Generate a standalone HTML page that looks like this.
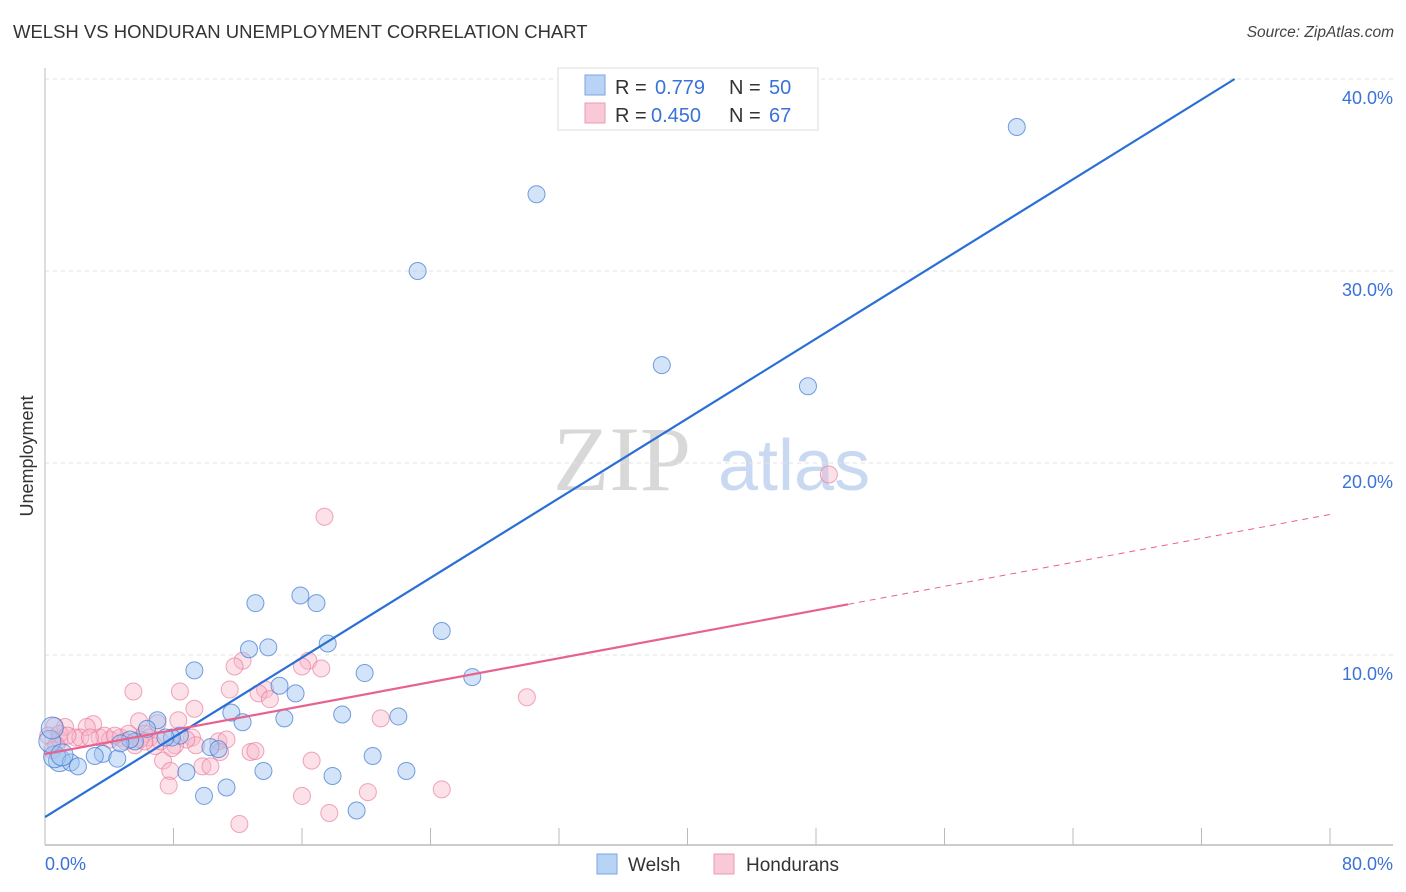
<!DOCTYPE html>
<html><head><meta charset="utf-8">
<style>
body{margin:0;background:#fff;width:1406px;height:892px;overflow:hidden;font-family:"Liberation Sans",sans-serif;}
#title{position:absolute;left:13px;top:21px;font-size:18.5px;color:#333;}
#source{position:absolute;right:12px;top:24px;font-size:15.5px;color:#444;font-style:italic;}
svg{position:absolute;left:0;top:0;}
</style></head><body>
<div id="title">WELSH VS HONDURAN UNEMPLOYMENT CORRELATION CHART</div>
<div id="source">Source: ZipAtlas.com</div>
<svg id="chart" width="1406" height="892"></svg>
<script>
const yTicks=[10,20,30,40];
const yTickLabels=["10.0%","20.0%","30.0%","40.0%"];
const xTicks=[0,8,16,24,32,40,48,56,64,72,80];
const welshX=[60.5,30.6,23.2,38.4,47.5,15.9,13.1,16.9,24.7,17.6,12.7,13.9,9.3,26.6,19.9,14.6,15.6,11.6,18.5,22.0,14.9,12.3,7.0,6.35,8.4,7.9,5.6,10.3,10.8,3.6,3.1,0.9,0.6,1.6,2.05,4.5,20.4,13.6,8.8,22.5,17.9,11.3,9.9,19.4,0.3,0.45,5.3,7.5,4.7,1.06];
const welshY=[37.5,34.0,30.0,25.1,24.0,13.1,12.7,12.7,11.25,10.6,10.3,10.4,9.2,8.85,9.06,8.4,8.0,7.0,6.9,6.8,6.7,6.5,6.6,6.15,5.8,5.7,5.5,5.2,5.1,4.85,4.74,4.5,4.7,4.4,4.2,4.6,4.74,3.96,3.9,3.96,3.7,3.1,2.66,1.9,5.5,6.2,5.6,5.7,5.4,4.8];
const hondX=[48.8,17.4,12.3,16.4,16.0,17.2,11.8,5.5,8.4,11.5,13.7,13.3,14.0,9.3,30.0,20.9,8.3,5.85,7.0,3.0,2.6,1.25,0.6,0.2,0.9,1.9,3.4,4.05,4.7,6.2,6.5,5.2,9.15,10.8,11.3,9.4,6.85,12.8,13.1,10.9,7.35,7.8,9.8,10.3,16.6,7.7,16.0,20.1,24.7,17.7,12.1,0.45,2.2,3.7,4.35,5.9,8.8,0.9,1.4,2.8,5.0,5.6,6.2,8.1,7.2,7.9,0.7];
const hondY=[19.4,17.2,9.7,9.7,9.4,9.3,9.4,8.1,8.1,8.2,8.2,8.0,7.7,7.2,7.8,6.7,6.6,6.55,6.45,6.4,6.25,6.25,6.3,5.8,5.6,5.7,5.7,5.6,5.7,5.9,5.7,5.9,5.7,5.5,5.6,5.3,5.26,4.95,5.0,4.95,4.5,3.96,4.2,4.2,4.5,3.2,2.66,2.86,3.0,1.77,1.2,5.05,5.7,5.8,5.8,5.6,5.6,5.9,5.8,5.7,5.5,5.3,5.5,5.3,5.5,5.15,5.3];
const welshTrend=[1.56,0.519];
const hondTrend=[4.84,0.156];

const X0=45,X1=1330,Y0=847,PY=19.2;
const sx=v=>X0+(X1-X0)*v/80;
const sy=v=>Y0-v*PY;
const svg=document.getElementById('chart');
const NS='http://www.w3.org/2000/svg';
function mk(tag,attrs,parent){const e=document.createElementNS(NS,tag);for(const k in attrs)e.setAttribute(k,attrs[k]);(parent||svg).appendChild(e);return e;}

let wm=mk('text',{x:553,y:490,'font-size':92,'font-family':'Liberation Serif,serif',fill:'#d8d8d8'});wm.textContent='ZIP';


let wm2=mk('text',{x:718,y:490,'font-size':72,'font-family':'Liberation Sans,sans-serif',fill:'#c9d9f2'});wm2.textContent='atlas';



yTicks.forEach((t,i)=>{
  const g=mk('line',{x1:45,x2:1393,y1:sy(t),y2:sy(t),stroke:'#e2e2e2','stroke-dasharray':'4,4'});
  
  
  const l=mk('text',{x:1393,y:sy(t)+25,'text-anchor':'end','font-size':18,fill:'#3a72d8'});l.textContent=yTickLabels[i];
  
  
});
let ax=mk('line',{x1:45,x2:45,y1:68,y2:845,stroke:'#bbb'});


let bx=mk('line',{x1:45,x2:1393,y1:845,y2:845,stroke:'#bbb','stroke-width':1.5});


xTicks.forEach(t=>{
  const tk=mk('line',{x1:sx(t),x2:sx(t),y1:828,y2:845,stroke:'#bbb'});
  
  
});
let xl0=mk('text',{x:45,y:870,'font-size':18,fill:'#3a72d8'});xl0.textContent='0.0%';


let xl1=mk('text',{x:1393,y:870,'text-anchor':'end','font-size':18,fill:'#3a72d8'});xl1.textContent='80.0%';


let yt=mk('text',{x:33,y:456,'font-size':18,fill:'#333','text-anchor':'middle',transform:'rotate(-90 33 456)'});yt.textContent='Unemployment';



hondX.forEach((x,i)=>{
  const c=mk('circle',{cx:sx(x),cy:sy(hondY[i]),r:8.5,fill:'rgba(248,180,200,0.4)',stroke:'rgba(232,120,155,0.65)','stroke-width':1});
  
  
});
welshX.forEach((x,i)=>{
  const c=mk('circle',{cx:sx(x),cy:sy(welshY[i]),r:x<1.2?11:8.5,fill:'rgba(160,195,240,0.45)',stroke:'rgba(60,120,210,0.7)','stroke-width':1});
  
  
});
let wl=mk('line',{x1:sx(0),y1:sy(welshTrend[0]),x2:sx((40-welshTrend[0])/welshTrend[1]),y2:sy(40),stroke:'#2a6fd6','stroke-width':2.2});


let hl=mk('line',{x1:sx(0),y1:sy(hondTrend[0]),x2:sx(50),y2:sy(hondTrend[0]+50*hondTrend[1]),stroke:'#e8628e','stroke-width':2.2});


let hd=mk('line',{x1:sx(50),y1:sy(hondTrend[0]+50*hondTrend[1]),x2:sx(80),y2:sy(hondTrend[0]+80*hondTrend[1]),stroke:'#e8628e','stroke-width':1,'stroke-dasharray':'6,5'});



let lg=mk('g',{});


mk('rect',{x:558,y:68,width:260,height:62,fill:'#fff',stroke:'#ddd'},lg);
mk('rect',{x:585,y:75,width:20,height:20,fill:'#b8d3f5',stroke:'#7aa5e0'},lg);
mk('rect',{x:585,y:103,width:20,height:20,fill:'#f9c9d7',stroke:'#eb9ab3'},lg);
[[94,'0.779','50',655,769],[122,'0.450','67',651,769]].forEach(r=>{
  let a=mk('text',{x:615,y:r[0],'font-size':20,fill:'#333'},lg);a.textContent='R =';
  let b=mk('text',{x:r[3],y:r[0],'font-size':20,fill:'#3a72d8'},lg);b.textContent=r[1];
  let c=mk('text',{x:729,y:r[0],'font-size':20,fill:'#333'},lg);c.textContent='N =';
  let d=mk('text',{x:r[4],y:r[0],'font-size':20,fill:'#3a72d8'},lg);d.textContent=r[2];
});
let bl=mk('g',{});


mk('rect',{x:597,y:854,width:20,height:20,fill:'#b8d3f5',stroke:'#7aa5e0'},bl);
let t1=mk('text',{x:628,y:871,'font-size':19,fill:'#333'},bl);t1.textContent='Welsh';
mk('rect',{x:714,y:854,width:20,height:20,fill:'#f9c9d7',stroke:'#eb9ab3'},bl);
let t2=mk('text',{x:746,y:871,'font-size':19,fill:'#333'},bl);t2.textContent='Hondurans';
</script>
</body></html>
